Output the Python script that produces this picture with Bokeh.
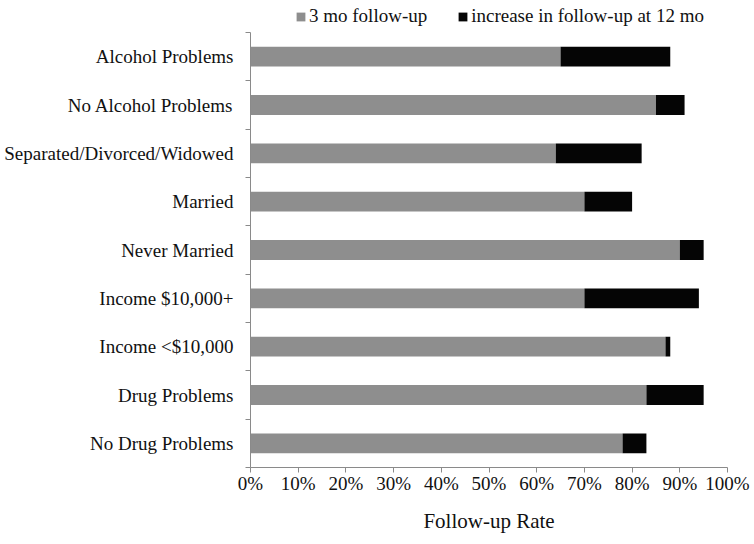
from bokeh.plotting import figure
from bokeh.models import FixedTicker, NumeralTickFormatter, Legend, LegendItem, Range1d
from bokeh.embed import file_html
from bokeh.resources import INLINE

categories = ["Alcohol Problems", "No Alcohol Problems", "Separated/Divorced/Widowed",
              "Married", "Never Married", "Income $10,000+", "Income <$10,000",
              "Drug Problems", "No Drug Problems"]
three_month = [0.65, 0.85, 0.64, 0.70, 0.90, 0.70, 0.87, 0.83, 0.78]
increase_12 = [0.23, 0.06, 0.18, 0.10, 0.05, 0.24, 0.01, 0.12, 0.05]
x_ticks = [0.0, 0.1, 0.2, 0.3, 0.4, 0.5, 0.6, 0.7, 0.8, 0.9, 1.0]
series_names = ["3 mo follow-up", "increase in follow-up at 12 mo"]

n = len(categories)
ypos = [n - 1 - i for i in range(n)]
totals = [a + b for a, b in zip(three_month, increase_12)]

FONT = "Liberation Serif"
AXIS_COLOR = "#8a8a8a"

# the frame reaches the top edge so the legend (drawn inside the frame) is not clipped;
# the y axis line is bounded to the category band only
top_pad = 32 / (435 / n)
p = figure(width=754, height=544, output_backend="svg", toolbar_location=None,
           x_range=Range1d(0, 1), y_range=Range1d(-0.5, n - 0.5 + top_pad),
           min_border_left=250, min_border_right=27, min_border_top=0, min_border_bottom=77)
p.outline_line_color = None
p.xgrid.visible = False
p.ygrid.visible = False

g = p.hbar(y=ypos, left=0, right=three_month, height=0.41, fill_color="#8e8e8e", line_color=None)
b = p.hbar(y=ypos, left=three_month, right=totals, height=0.41, fill_color="#050505", line_color=None)

# x axis
p.xaxis.ticker = FixedTicker(ticks=x_ticks)
p.xaxis.formatter = NumeralTickFormatter(format="0%")
p.xaxis.axis_line_color = AXIS_COLOR
p.xaxis.major_tick_line_color = AXIS_COLOR
p.xaxis.major_tick_out = 5
p.xaxis.major_tick_in = 0
p.xaxis.minor_tick_line_color = None
p.xaxis.major_label_text_font = FONT
p.xaxis.major_label_text_font_size = "19px"
p.xaxis.major_label_text_color = "#111111"
p.xaxis.major_label_standoff = 0
p.xaxis.axis_label = "Follow-up Rate"
p.xaxis.axis_label_text_font = FONT
p.xaxis.axis_label_text_font_style = "normal"
p.xaxis.axis_label_text_font_size = "21px"
p.xaxis.axis_label_text_color = "#111111"
p.xaxis.axis_label_standoff = 12

# y axis: labels at centers, ticks at boundaries
boundaries = [i - 0.5 for i in range(n + 1)]
p.yaxis.ticker = FixedTicker(ticks=ypos, minor_ticks=boundaries)
p.yaxis.bounds = (-0.5, n - 0.5)
p.yaxis.major_label_overrides = {y: c for y, c in zip(ypos, categories)}
p.yaxis.axis_line_color = AXIS_COLOR
p.yaxis.major_tick_line_color = None
p.yaxis.major_tick_out = 0
p.yaxis.major_tick_in = 0
p.yaxis.minor_tick_line_color = AXIS_COLOR
p.yaxis.minor_tick_out = 5
p.yaxis.minor_tick_in = 0
p.yaxis.major_label_text_font = FONT
p.yaxis.major_label_text_font_size = "19px"
p.yaxis.major_label_text_color = "#111111"
p.yaxis.major_label_standoff = 12

legend = Legend(items=[LegendItem(label=series_names[0], renderers=[g]),
                       LegendItem(label=series_names[1], renderers=[b])],
                orientation="horizontal", location=(45, 440),
                glyph_width=11, glyph_height=11, spacing=30, label_standoff=3,
                padding=2, margin=0, border_line_color=None, background_fill_alpha=0,
                label_text_font=FONT, label_text_font_size="19px", label_text_color="#111111")
p.add_layout(legend, "center")

open("out.html", "w").write(file_html(p, INLINE))
